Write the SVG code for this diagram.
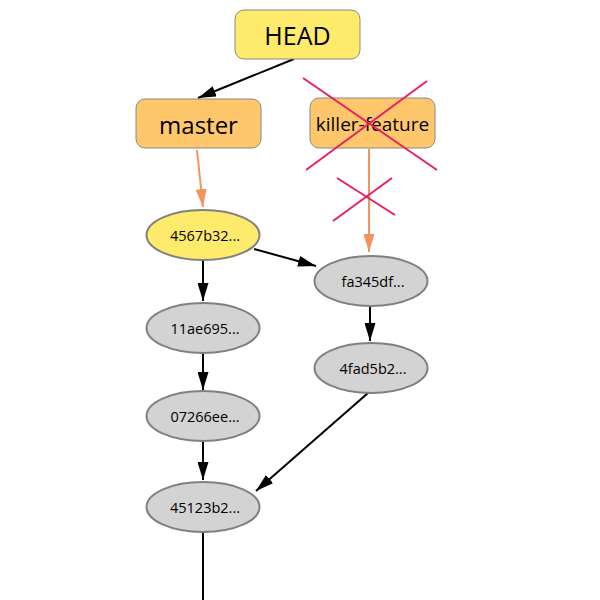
<svg xmlns="http://www.w3.org/2000/svg" width="600" height="600" viewBox="0 0 600 600">
<style>
.ref rect{stroke:#888;stroke-width:1}
.lbl{font-family:"Open Sans","Noto Sans","DejaVu Sans",sans-serif;fill:#000;text-anchor:middle;dominant-baseline:central}
.commit ellipse{fill:#d3d3d3;stroke:#808080;stroke-width:2}
.edge{stroke:#000;stroke-width:2;fill:none;marker-end:url(#ab)}
.oedge{stroke:#f4935a;stroke-width:2;fill:none;marker-end:url(#ao)}
.cross{stroke:#e91e63;stroke-width:2;fill:none}
</style>
<defs>
<marker id="ab" viewBox="0 0 18 11" refX="18" refY="5.5" markerWidth="9" markerHeight="5.5" markerUnits="strokeWidth" orient="auto"><path d="M0,0L18,5.5L0,11z" fill="#000"/></marker>
<marker id="ao" viewBox="0 0 18 11" refX="18" refY="5.5" markerWidth="9" markerHeight="5.5" markerUnits="strokeWidth" orient="auto"><path d="M0,0L18,5.5L0,11z" fill="#f4935a"/></marker>
</defs>
<rect width="600" height="600" fill="#fff"/>
<g id="connectors">
<line class="edge" x1="294" y1="59" x2="198" y2="98"/>
<line class="oedge" x1="197" y1="150" x2="203" y2="207"/>
<line class="oedge" x1="369" y1="149" x2="369" y2="252"/>
<line class="edge" x1="254" y1="249" x2="316" y2="266"/>
<line class="edge" x1="203" y1="261" x2="203" y2="301"/>
<line class="edge" x1="203" y1="354" x2="203" y2="390"/>
<line class="edge" x1="203" y1="442" x2="203" y2="480"/>
<line class="edge" x1="370" y1="304" x2="370" y2="341"/>
<line class="edge" x1="368" y1="393" x2="256" y2="491"/>
<line stroke="#000" stroke-width="2" x1="203" y1="533" x2="203" y2="600"/>
</g>
<g id="HEAD" class="ref">
<rect x="235" y="10" width="125" height="49" rx="9" fill="#ffeb6b"/>
<text class="lbl" x="297.5" y="35" font-size="25">HEAD</text>
</g>
<g id="master" class="ref">
<rect x="136" y="99" width="125" height="49" rx="9" fill="#ffc76b"/>
<text class="lbl" x="198.5" y="124" font-size="24">master</text>
</g>
<g id="killer-feature" class="ref">
<rect x="310" y="98" width="125" height="50" rx="9" fill="#ffc76b"/>
<text class="lbl" x="372.5" y="124" font-size="19">killer-feature</text>
</g>
<g id="crosses">
<line class="cross" x1="303" y1="78" x2="437" y2="170"/>
<line class="cross" x1="427" y1="81" x2="306" y2="170"/>
<line class="cross" x1="337" y1="178" x2="395" y2="215"/>
<line class="cross" x1="392" y1="178" x2="333" y2="221"/>
</g>
<g id="c4567b32" class="commit">
<ellipse cx="203" cy="235" rx="56.5" ry="25" style="fill:#ffeb6b"/>
<text class="lbl" x="205" y="235" font-size="14.5">4567b32...</text>
</g>
<g id="cfa345df" class="commit">
<ellipse cx="371" cy="281" rx="56.5" ry="25"/>
<text class="lbl" x="373" y="281" font-size="14.5">fa345df...</text>
</g>
<g id="c11ae695" class="commit">
<ellipse cx="203" cy="328" rx="56.5" ry="25"/>
<text class="lbl" x="205" y="328" font-size="14.5">11ae695...</text>
</g>
<g id="c4fad5b2" class="commit">
<ellipse cx="371" cy="368" rx="56.5" ry="25"/>
<text class="lbl" x="373" y="368" font-size="14.5">4fad5b2...</text>
</g>
<g id="c07266ee" class="commit">
<ellipse cx="203" cy="416" rx="56.5" ry="25"/>
<text class="lbl" x="205" y="416" font-size="14.5">07266ee...</text>
</g>
<g id="c45123b2" class="commit">
<ellipse cx="203" cy="507" rx="56.5" ry="25"/>
<text class="lbl" x="205" y="507" font-size="14.5">45123b2...</text>
</g>
</svg>
